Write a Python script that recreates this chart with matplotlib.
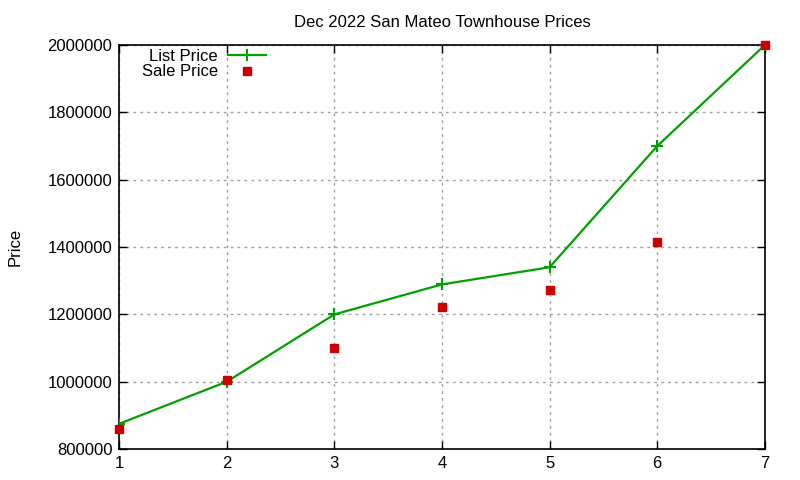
import matplotlib
matplotlib.use("Agg")
import matplotlib.pyplot as plt

plt.rcParams['font.family'] = ['Liberation Sans', 'DejaVu Sans']

x = [1, 2, 3, 4, 5, 6, 7]
list_price = [875000, 1000000, 1200000, 1289000, 1340000, 1700000, 2000000]
sale_price = [860000, 1005000, 1100000, 1222000, 1273000, 1415000, 2000000]
yticks = [800000, 1000000, 1200000, 1400000, 1600000, 1800000, 2000000]

fig = plt.figure(figsize=(8, 4.8), dpi=100)
ax = fig.add_axes([0.149, 0.0646, 0.807, 0.8414])

ax.plot(x, list_price, color='#00a000', lw=1.6, marker='+', ms=8, mew=1.5,
        label='List Price', zorder=3)
ax.plot(x, sale_price, ls='none', color='#cc0000', marker='s', ms=6,
        label='Sale Price', zorder=4, clip_on=False)

ax.set_xlim(1, 7)
ax.set_ylim(800000, 2000000)
ax.set_xticks(x)
ax.set_yticks(yticks)
ax.set_yticklabels([str(v) for v in yticks])
ax.tick_params(direction='in', length=6, width=1, top=True, right=True,
               labelsize=12, colors='black', pad=5)
ax.grid(True, color='#a0a0a0', ls=(0, (2, 3)), lw=1)
for s in ax.spines.values():
    s.set_linewidth(1.2)

ax.set_title('Dec 2022 San Mateo Townhouse Prices', fontsize=12, pad=13)
ax.set_ylabel('Price', fontsize=12, labelpad=18)

leg = ax.legend(loc='upper left', bbox_to_anchor=(0.022, 1.012), frameon=False,
                markerfirst=False, fontsize=12, handlelength=2.3,
                labelspacing=0.05, borderaxespad=0.1, handletextpad=0.6)
for t in leg.get_texts():
    t.set_ha('right')
leg._legend_box.align = 'right'

fig.savefig('out.png', dpi=100)
